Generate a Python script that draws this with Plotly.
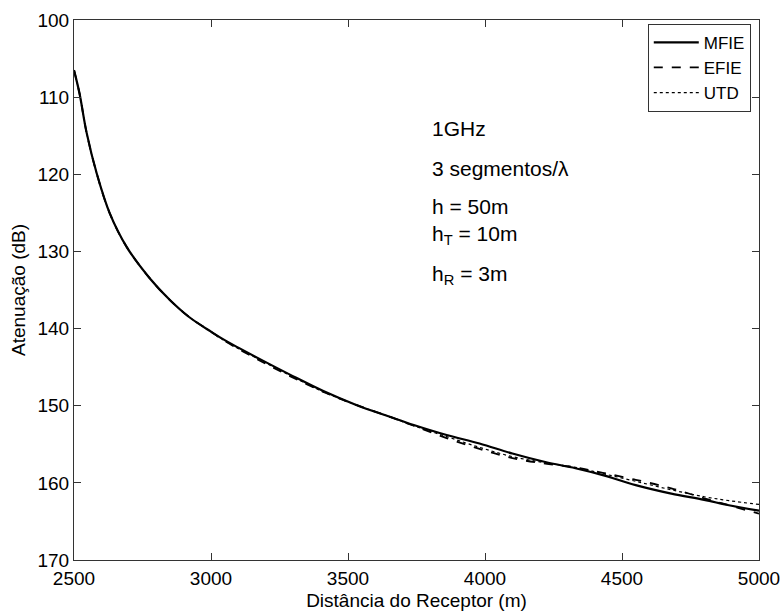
import plotly.graph_objects as go

# Receiver distance (m) and attenuation (dB) for the three methods
distance = [2500, 2520, 2546, 2583, 2631, 2692, 2777, 2850, 2920, 3000, 3050,
            3170, 3290, 3410, 3530, 3650, 3740, 3860, 3980, 4100, 4220, 4330,
            4430, 4550, 4680, 4800, 4890, 5000]

mfie = [106.5, 109.5, 114.6, 119.9, 125.1, 129.4, 133.5, 136.3, 138.5, 140.4, 141.5,
        143.8, 146.0, 148.1, 149.9, 151.4, 152.5, 153.8, 154.9, 156.2, 157.3, 158.1,
        159.0, 160.3, 161.4, 162.2, 162.9, 163.6]

efie = [106.5, 109.5, 114.6, 119.9, 125.1, 129.4, 133.5, 136.3, 138.5, 140.4, 141.6,
        144.0, 146.2, 148.2, 149.9, 151.4, 152.6, 154.2, 155.6, 156.8, 157.5, 158.0,
        158.7, 159.6, 160.7, 162.0, 162.9, 164.0]

utd = [106.5, 109.5, 114.6, 119.9, 125.1, 129.4, 133.5, 136.3, 138.5, 140.4, 141.6,
       143.9, 146.1, 148.2, 149.9, 151.4, 152.6, 154.0, 155.4, 156.6, 157.4, 158.0,
       158.8, 159.8, 160.9, 161.8, 162.3, 162.8]

x_ticks = [2500, 3000, 3500, 4000, 4500, 5000]
y_ticks = [100, 110, 120, 130, 140, 150, 160, 170]

FONT = "Liberation Sans, Arial, sans-serif"

fig = go.Figure()
fig.add_trace(go.Scatter(x=distance, y=mfie, mode="lines", name="MFIE",
                         line=dict(color="black", width=2.2, shape="spline")))
fig.add_trace(go.Scatter(x=distance, y=efie, mode="lines", name="EFIE",
                         line=dict(color="black", width=1.8, dash="dash", shape="spline")))
fig.add_trace(go.Scatter(x=distance, y=utd, mode="lines", name="UTD",
                         line=dict(color="black", width=1.2, dash="dot", shape="spline")))

# Simulation parameters written inside the axes
params = [
    ("1GHz", 114.0),
    ("3 segmentos/λ", 119.2),
    ("h = 50m", 124.2),
    ("h<sub>T</sub> = 10m", 127.9),
    ("h<sub>R</sub> = 3m", 133.0),
]
for txt, yv in params:
    fig.add_annotation(x=3800, y=yv, xref="x", yref="y", text=txt, showarrow=False,
                       xanchor="left", yanchor="middle",
                       font=dict(family=FONT, size=21, color="black"))

axis_common = dict(
    showgrid=False, zeroline=False, showline=True, linecolor="#333333", linewidth=1,
    mirror="ticks", ticks="inside", ticklen=7, tickcolor="#333333",
    tickfont=dict(family=FONT, size=19, color="black"), automargin=False,
)

fig.update_xaxes(range=[2500, 5000], tickvals=x_ticks, ticklabelstandoff=1,
                 title=dict(text="Distância do Receptor (m)", standoff=5,
                            font=dict(family=FONT, size=19, color="black")),
                 **axis_common)
fig.update_yaxes(range=[170, 100], tickvals=y_ticks,
                 title=dict(text="Atenuação (dB)", standoff=6,
                            font=dict(family=FONT, size=19, color="black")),
                 **axis_common)

fig.update_layout(
    width=784, height=611,
    margin=dict(l=74, r=25, t=20, b=51),
    plot_bgcolor="white", paper_bgcolor="white",
    legend=dict(x=0.988, y=0.993, xanchor="right", yanchor="top",
                bgcolor="white", bordercolor="#333333", borderwidth=1,
                font=dict(family=FONT, size=17, color="black"),
                tracegroupgap=0, itemwidth=45),
    showlegend=True,
)

fig.write_html("out.html")
